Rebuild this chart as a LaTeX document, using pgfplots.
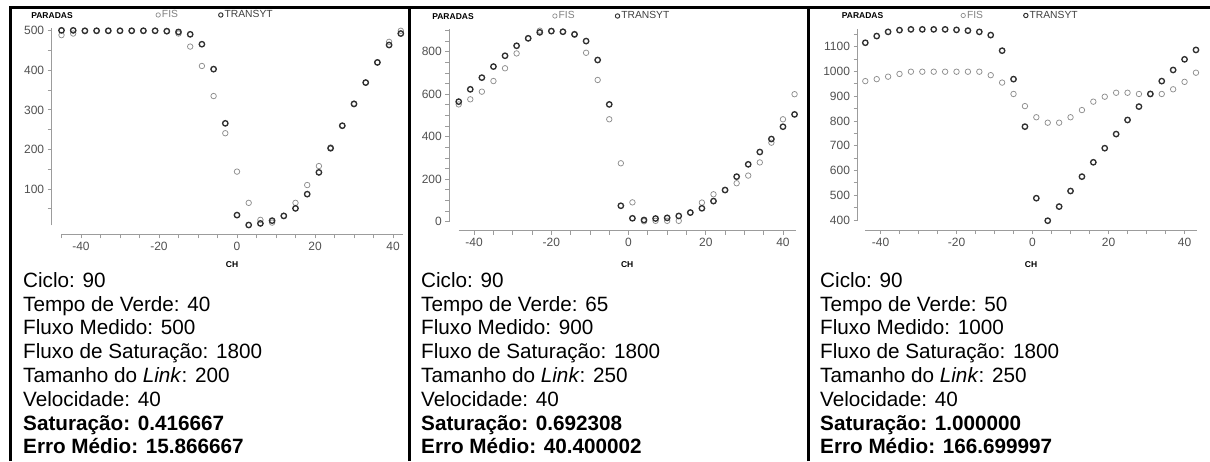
\documentclass[border=0pt]{standalone}
\usepackage{fontspec}
\setmainfont{Liberation Sans}
\usepackage{pgfplots}
\usepackage{pgfplotstable}
\pgfplotsset{compat=1.18}

\definecolor{tgray}{HTML}{303030}
\definecolor{fgray}{HTML}{8E8E8E}
\definecolor{axgray}{HTML}{9C9C9C}
\definecolor{lblgray}{HTML}{505050}
\definecolor{legf}{HTML}{808080}
\definecolor{legt}{HTML}{404040}

% ---------------- data ----------------
\pgfplotstableread{
x fis transyt
-45 489 501
-42 493 501
-39 499 500
-36 500 500
-33 500 500
-30 500 500
-27 500 500
-24 500 500
-21 500 500
-18 499 499
-15 493 497
-12 460 491
-9 411 466
-6 335 403
-3 241 266
0 144 34
3 65 9
6 22 13
9 15 20
12 32 32
15 65 51
18 110 87
21 158 142
24 205 203
27 260 260
30 316 315
33 369 369
36 420 420
39 472 464
42 500 493
}\tabA

\pgfplotstableread{
x fis transyt
-44 552 565
-41 576 623
-38 612 678
-35 662 730
-32 722 781
-29 792 828
-26 863 863
-23 899 891
-20 897 897
-17 894 894
-14 880 882
-11 795 850
-8 667 761
-5 482 552
-2 275 75
1 91 16
4 2 8
7 4 15
10 4 18
13 4 27
16 43 43
19 90 63
22 129 97
25 149 149
28 181 212
31 217 270
34 279 328
37 372 389
40 482 447
43 600 505
}\tabB

\pgfplotstableread{
x fis transyt
-44 961 1116
-41 969 1143
-38 979 1160
-35 990 1167
-32 999 1170
-29 999 1170
-26 999 1170
-23 999 1170
-20 999 1168
-17 999 1165
-14 999 1160
-11 985 1147
-8 955 1084
-5 909 969
-2 860 777
1 815 488
4 793 397
7 793 454
10 815 517
13 844 575
16 878 633
19 898 690
22 914 747
25 914 804
28 909 858
31 910 909
34 909 961
37 928 1006
40 958 1049
43 995 1087
}\tabC

\pgfplotsset{
  panel/.style={
    scale only axis,
    clip=false,
    axis x line*=bottom,
    axis y line*=left,
    axis x line shift=9pt,
    axis line style={draw=axgray, line width=0.9pt},
    every tick/.style={draw=axgray, line width=0.9pt},
    major tick length=4pt,
    minor tick length=4pt,
    tick align=outside,
    ticklabel style={font=\fontsize{12}{14}\selectfont, text=lblgray},
    /pgf/number format/assume math mode=true,
    /pgf/number format/1000 sep={},
    xtick={-40,-20,0,20,40},
    minor xtick={-45,-35,-30,-25,-15,-10,-5,5,10,15,25,30,35},
    xlabel={CH},
    ylabel={PARADAS},
    legend columns=2,
    legend cell align=left,
    legend image code/.code={\draw[mark repeat=2,mark phase=2,##1] plot coordinates {(0pt,0pt) (2.6pt,0pt) (5.2pt,0pt)};},
    legend style={draw=none, fill=none, inner sep=0pt, anchor=west,
      font=\fontsize{10.3}{12}\selectfont,
      nodes={inner xsep=1.6pt, inner ysep=0pt},
      /tikz/every even column/.append style={column sep=39pt}},
  },
  fisst/.style={only marks, mark=o, mark size=2.75pt, mark options={draw=fgray, line width=0.75pt},
     legend image post style={mark size=2.2pt, mark options={draw=fgray, line width=0.7pt}}},
  trast/.style={only marks, mark=o, mark size=2.7pt, mark options={draw=tgray, line width=1.35pt},
     legend image post style={mark size=2.2pt, mark options={draw=tgray, line width=0.95pt}}},
}

\newcommand\infoblock[9]{%
  \foreach \txt [count=\i from 0] in {{#2},{#3},{#4},{#5},{#6},{#7},{#8},{#9}}{%
    \node[anchor=base west, inner sep=0pt, font=\fontsize{20.7}{24}\selectfont] at (#1, 173.7-23.8*\i) {\txt};
  }%
}

\begin{document}
\begin{tikzpicture}[x=1pt,y=1pt]
\useasboundingbox (0,0) rectangle (1210,461);
\draw[line width=2.6pt] (10.5,0) -- (10.5,453.2) -- (1210,453.2);
\draw[line width=2.6pt] (409.7,0) -- (409.7,453.2);
\draw[line width=2.6pt] (808.7,0) -- (808.7,453.2);

% ---------------- panel 1 ----------------
\begin{axis}[panel,
  at={(61.5pt,235.6pt)}, anchor=south west,
  width=341.25pt, height=197.4pt,
  xmin=-45, xmax=42.5, ymin=8, ymax=507,
  ytick={100,200,300,400,500},
  minor ytick={50,150,250,350,450},
  axis y line shift=9.8pt,
  every axis x label/.style={at={(axis description cs:0.5,-0.2006)}, anchor=center, font=\bfseries\fontsize{8.5}{10}\selectfont},
  every axis y label/.style={at={(axis description cs:-0.0278,1.0633)}, anchor=center, font=\bfseries\fontsize{8.5}{10}\selectfont},
  legend style={at={(axis description cs:0.2763,1.066)}},
]
\addplot[fisst] table[x=x,y=fis]{\tabA};
\addlegendentry{\textcolor{legf}{FIS}}
\addplot[trast] table[x=x,y=transyt]{\tabA};
\addlegendentry{\textcolor{legt}{TRANSYT}}
\end{axis}

% ---------------- panel 2 ----------------
\begin{axis}[panel,
  at={(458.7pt,239.3pt)}, anchor=south west,
  width=337pt, height=192.3pt,
  xmin=-44, xmax=43.3, ymin=0, ymax=905,
  ytick={0,200,400,600,800},
  minor ytick={50,100,150,250,300,350,450,500,550,650,700,750,850,900},
  axis y line shift=9.4pt,
  every axis x label/.style={at={(axis description cs:0.5,-0.2252)}, anchor=center, font=\bfseries\fontsize{8.5}{10}\selectfont},
  every axis y label/.style={at={(axis description cs:-0.0169,1.067)}, anchor=center, font=\bfseries\fontsize{8.5}{10}\selectfont},
  legend style={at={(axis description cs:0.2783,1.0697)}},
]
\addplot[fisst] table[x=x,y=fis]{\tabB};
\addlegendentry{\textcolor{legf}{FIS}}
\addplot[trast] table[x=x,y=transyt]{\tabB};
\addlegendentry{\textcolor{legt}{TRANSYT}}
\end{axis}

% ---------------- panel 3 ----------------
\begin{axis}[panel,
  at={(865.3pt,239.8pt)}, anchor=south west,
  width=331.4pt, height=192.3pt,
  xmin=-44, xmax=43.2, ymin=395, ymax=1172,
  ytick={400,500,600,700,800,900,1000,1100},
  minor ytick={450,550,650,750,850,950,1050,1150},
  axis y line shift=7.8pt,
  every axis x label/.style={at={(axis description cs:0.5,-0.2278)}, anchor=center, font=\bfseries\fontsize{8.5}{10}\selectfont},
  every axis y label/.style={at={(axis description cs:-0.0084,1.0686)}, anchor=center, font=\bfseries\fontsize{8.5}{10}\selectfont},
  legend style={at={(axis description cs:0.2882,1.0697)}},
]
\addplot[fisst] table[x=x,y=fis]{\tabC};
\addlegendentry{\textcolor{legf}{FIS}}
\addplot[trast] table[x=x,y=transyt]{\tabC};
\addlegendentry{\textcolor{legt}{TRANSYT}}
\end{axis}

% ---------------- parameter texts ----------------
\infoblock{23}{Ciclo: 90}{Tempo de Verde: 40}{Fluxo Medido: 500}{Fluxo de Saturação: 1800}{Tamanho do \textit{Link}: 200}{Velocidade: 40}{\textbf{Saturação: 0.416667}}{\textbf{Erro Médio: 15.866667}}
\infoblock{421}{Ciclo: 90}{Tempo de Verde: 65}{Fluxo Medido: 900}{Fluxo de Saturação: 1800}{Tamanho do \textit{Link}: 250}{Velocidade: 40}{\textbf{Saturação: 0.692308}}{\textbf{Erro Médio: 40.400002}}
\infoblock{820}{Ciclo: 90}{Tempo de Verde: 50}{Fluxo Medido: 1000}{Fluxo de Saturação: 1800}{Tamanho do \textit{Link}: 250}{Velocidade: 40}{\textbf{Saturação: 1.000000}}{\textbf{Erro Médio: 166.699997}}
\end{tikzpicture}
\end{document}
